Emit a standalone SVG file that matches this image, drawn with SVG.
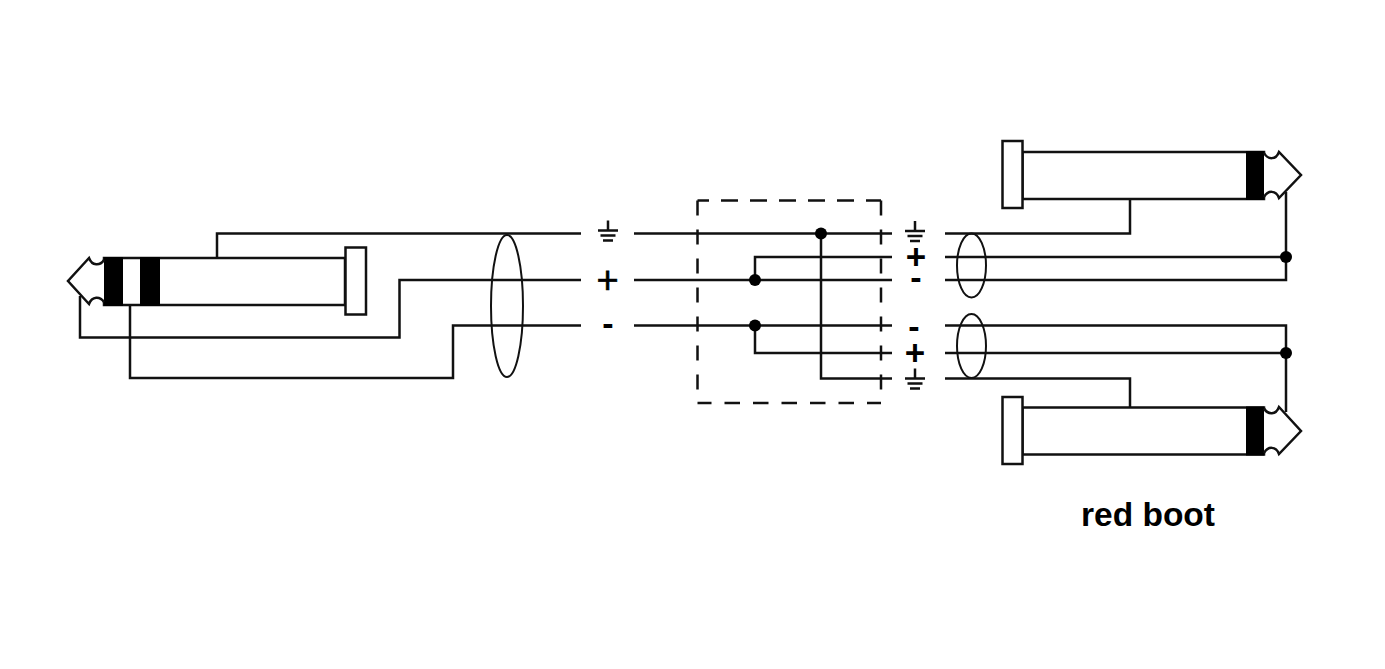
<svg xmlns="http://www.w3.org/2000/svg" width="1385" height="669" viewBox="0 0 1385 669">
<style>
.l{fill:none;stroke:#111;stroke-width:2.5}
.s{fill:#fff;stroke:#111;stroke-width:2.5}
.e{fill:none;stroke:#111;stroke-width:2}
.b{fill:#000}
.d{fill:#000}
.g{stroke:#111;stroke-width:2.5;fill:none}
.x{fill:none;stroke:#111;stroke-width:2.5}
.t{font-family:"Liberation Sans",Arial,sans-serif;fill:#000;text-anchor:middle}
.m{font-weight:bold;font-size:34px}
.q{font-weight:bold;font-size:35px}
.p{font-size:38px;stroke:#000;stroke-width:0.6}
</style>
<defs>
<g id="gnd"><path class="g" d="M0,-10V0M-10,0H10M-7.500,5H7.500M-5,10H5"/></g>
</defs>
<rect width="1385" height="669" fill="#fff"/>
<g id="connectors">
<path class="l" d="M217,258V233.500H581"/>
<path class="l" d="M80,296V337.500H399.500V280H581"/>
<path class="l" d="M130,305V378H453V325.500H581"/>
<path class="l" d="M634,233.500H892M634,280H892M634,325.500H892"/>
<path class="l" d="M892,257H755V280M755,325.500V353H892M821,233.500V378.500H892"/>
<path class="l" d="M945,233.500H1130V199M945,257H1286M945,280H1286V192M945,325.500H1286V412M945,353H1286M945,378.500H1130V407"/>
<g class="d"><circle cx="821" cy="233.500" r="6"/><circle cx="755" cy="280" r="6"/><circle cx="755" cy="325.500" r="6"/><circle cx="1286" cy="257" r="6"/><circle cx="1286" cy="353" r="6"/></g>
</g>
<g id="splitter-box">
<path class="x" stroke-dasharray="17 12" stroke-dashoffset="5.500" d="M697.500,200.500H881"/>
<path class="x" stroke-dasharray="15.500 13" stroke-dashoffset="1.500" d="M697.500,403H881"/>
<path class="x" stroke-dasharray="15 14" d="M697.500,200.500V403M881,200.500V403"/>
</g>
<g id="shield-left"><ellipse class="e" cx="507" cy="306" rx="16" ry="71"/></g>
<g id="shield-right-top"><ellipse class="e" cx="971.500" cy="265.500" rx="14.500" ry="32"/></g>
<g id="shield-right-bottom"><ellipse class="e" cx="971.500" cy="346" rx="14.500" ry="32"/></g>
<g id="plug-stereo">
<path class="s" d="M104,258H345V305H104Z"/>
<rect class="s" x="345.500" y="247.500" width="20.500" height="67"/>
<rect class="b" x="104" y="257" width="19" height="49"/>
<rect class="b" x="140" y="257" width="20" height="49"/>
<path class="s" d="M104,260C100,266 92,266 89,258L68,281L89,304C92,296 100,296 104,302"/>
</g>
<g id="plug-top">
<path class="s" d="M1022.500,152H1264V199H1022.500Z"/>
<rect class="s" x="1002.500" y="141" width="20" height="67"/>
<rect class="b" x="1246" y="151" width="18" height="49"/>
<path class="s" d="M1264,153C1268,160 1276,160 1279,152L1301,175L1279,198C1276,190 1268,190 1264,197"/>
</g>
<g id="plug-bottom">
<path class="s" d="M1022.500,407.500H1264V454.500H1022.500Z"/>
<rect class="s" x="1002.500" y="397" width="20" height="67"/>
<rect class="b" x="1246" y="406.500" width="18" height="49"/>
<path class="s" d="M1264,408.500C1268,415 1276,415 1279,407L1301,431L1279,454C1276,446 1268,446 1264,453"/>
</g>
<g id="labels-left">
<use href="#gnd" x="608" y="230.500"/>
<text class="t p" x="607.500" y="293">+</text>
<text class="t m" x="608" y="335">-</text>
</g>
<g id="labels-right">
<use href="#gnd" x="915" y="231"/>
<text class="t q" x="916" y="269">+</text>
<text class="t m" x="916" y="289">-</text>
<text class="t m" x="914" y="338">-</text>
<text class="t q" x="915" y="365">+</text>
<use href="#gnd" x="915" y="378.500"/>
</g>
<g id="caption"><text class="t" x="1148" y="526" font-size="33.500" font-weight="bold">red boot</text></g>
</svg>
